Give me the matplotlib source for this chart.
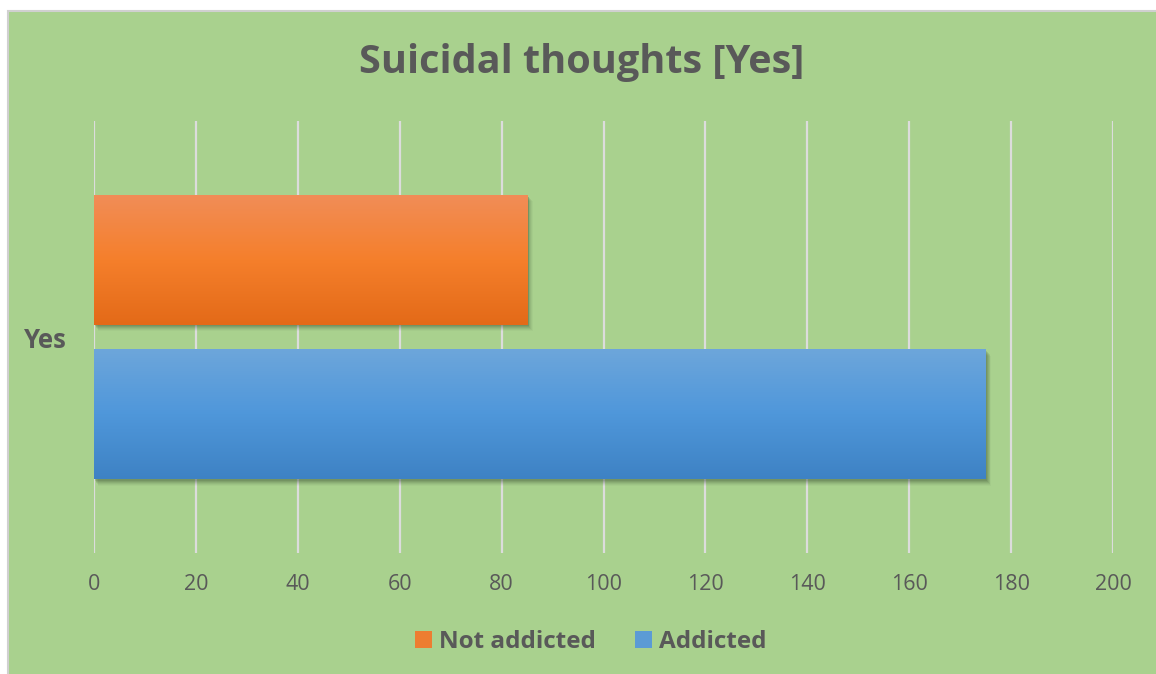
import matplotlib.pyplot as plt
import numpy as np
from matplotlib.patches import Rectangle
from matplotlib.colors import LinearSegmentedColormap

plt.rcParams['font.family'] = ['Open Sans', 'DejaVu Sans']

categories = ['Yes']
series = ['Not addicted', 'Addicted']
values = [85, 175]
x_ticks = [0, 20, 40, 60, 80, 100, 120, 140, 160, 180, 200]

# top / middle / bottom shades of each bar's vertical gradient
gradients = {
    'Not addicted': ['#f18d57', '#f57f2b', '#e36a18'],
    'Addicted': ['#6da6db', '#4f97da', '#3e82c4'],
}
solid = {'Not addicted': '#ed7d31', 'Addicted': '#5b9bd5'}

bg = '#a9d18e'
text_col = '#595959'
W, H = 1156, 674

fig = plt.figure(figsize=(W / 100, H / 100), dpi=100)
fig.patch.set_facecolor('white')
# chart area with a thin grey border on the left and top
fig.patches.append(Rectangle((7.5 / W, -0.01), 1.02, 1 - 10.5 / H + 0.01,
                             transform=fig.transFigure, facecolor=bg,
                             edgecolor='#d0d0d0', linewidth=1.5, zorder=-5))

ax = fig.add_axes([94 / W, 1 - 553 / H, (1113 - 94) / W, (553 - 121) / H])
ax.set_zorder(2)
ax.set_facecolor('none')
for s in ax.spines.values():
    s.set_visible(False)
ax.set_xticks(x_ticks)
ax.set_xticklabels([str(t) for t in x_ticks], fontsize=15.5, color=text_col)
ax.tick_params(axis='x', length=0, pad=15)
ax.set_yticks([0])
ax.set_yticklabels(categories, fontsize=18.5, fontweight='bold', color=text_col)
ax.tick_params(axis='y', length=0, pad=19.5)
ax.grid(axis='x', color='#dcdcdc', linewidth=1.6)
ax.set_axisbelow(True)

bar_h = 0.4
offsets = [0.238, -0.238]
px = 200 / (1113 - 94)
py = 1.33 / (553 - 121)
for name, val, off in zip(series, values, offsets):
    y0 = off - bar_h / 2
    # soft drop shadow: a few stacked translucent rectangles
    for k, a in zip([7, 6, 5, 4, 3, 2], [0.04, 0.06, 0.08, 0.1, 0.12, 0.14]):
        ax.add_patch(Rectangle((k * px * 0.6, y0 - k * py * 0.9), val + k * px * 0.2,
                               bar_h, facecolor='#34442c', alpha=a,
                               edgecolor='none', zorder=2))
    rect = Rectangle((0, y0), val, bar_h, facecolor=solid[name],
                     edgecolor='none', zorder=3)
    ax.add_patch(rect)
    cmap = LinearSegmentedColormap.from_list(name, gradients[name][::-1])
    grad = np.linspace(0, 1, 256).reshape(-1, 1)
    im = ax.imshow(grad, cmap=cmap, aspect='auto', origin='lower',
                   extent=(0, val, y0, y0 + bar_h), zorder=4)
    im.set_clip_path(rect)

ax.set_xlim(0, 200)
ax.set_ylim(-0.665, 0.665)

fig.text(582 / W, 1 - 63 / H, 'Suicidal thoughts [Yes]', ha='center', va='center',
         fontsize=28.5, fontweight='bold', color=text_col)

handles = [Rectangle((0, 0), 1, 1, facecolor=solid[n]) for n in series]
leg = fig.legend(handles, series, loc='center', bbox_to_anchor=(591 / W, 1 - 642 / H),
                 ncol=2, frameon=False, handlelength=0.7, handleheight=0.7,
                 handletextpad=0.3, columnspacing=1.6,
                 prop={'size': 17.5, 'weight': 'bold'})
for t in leg.get_texts():
    t.set_color(text_col)

fig.savefig('out.png', dpi=100, facecolor=fig.get_facecolor())
